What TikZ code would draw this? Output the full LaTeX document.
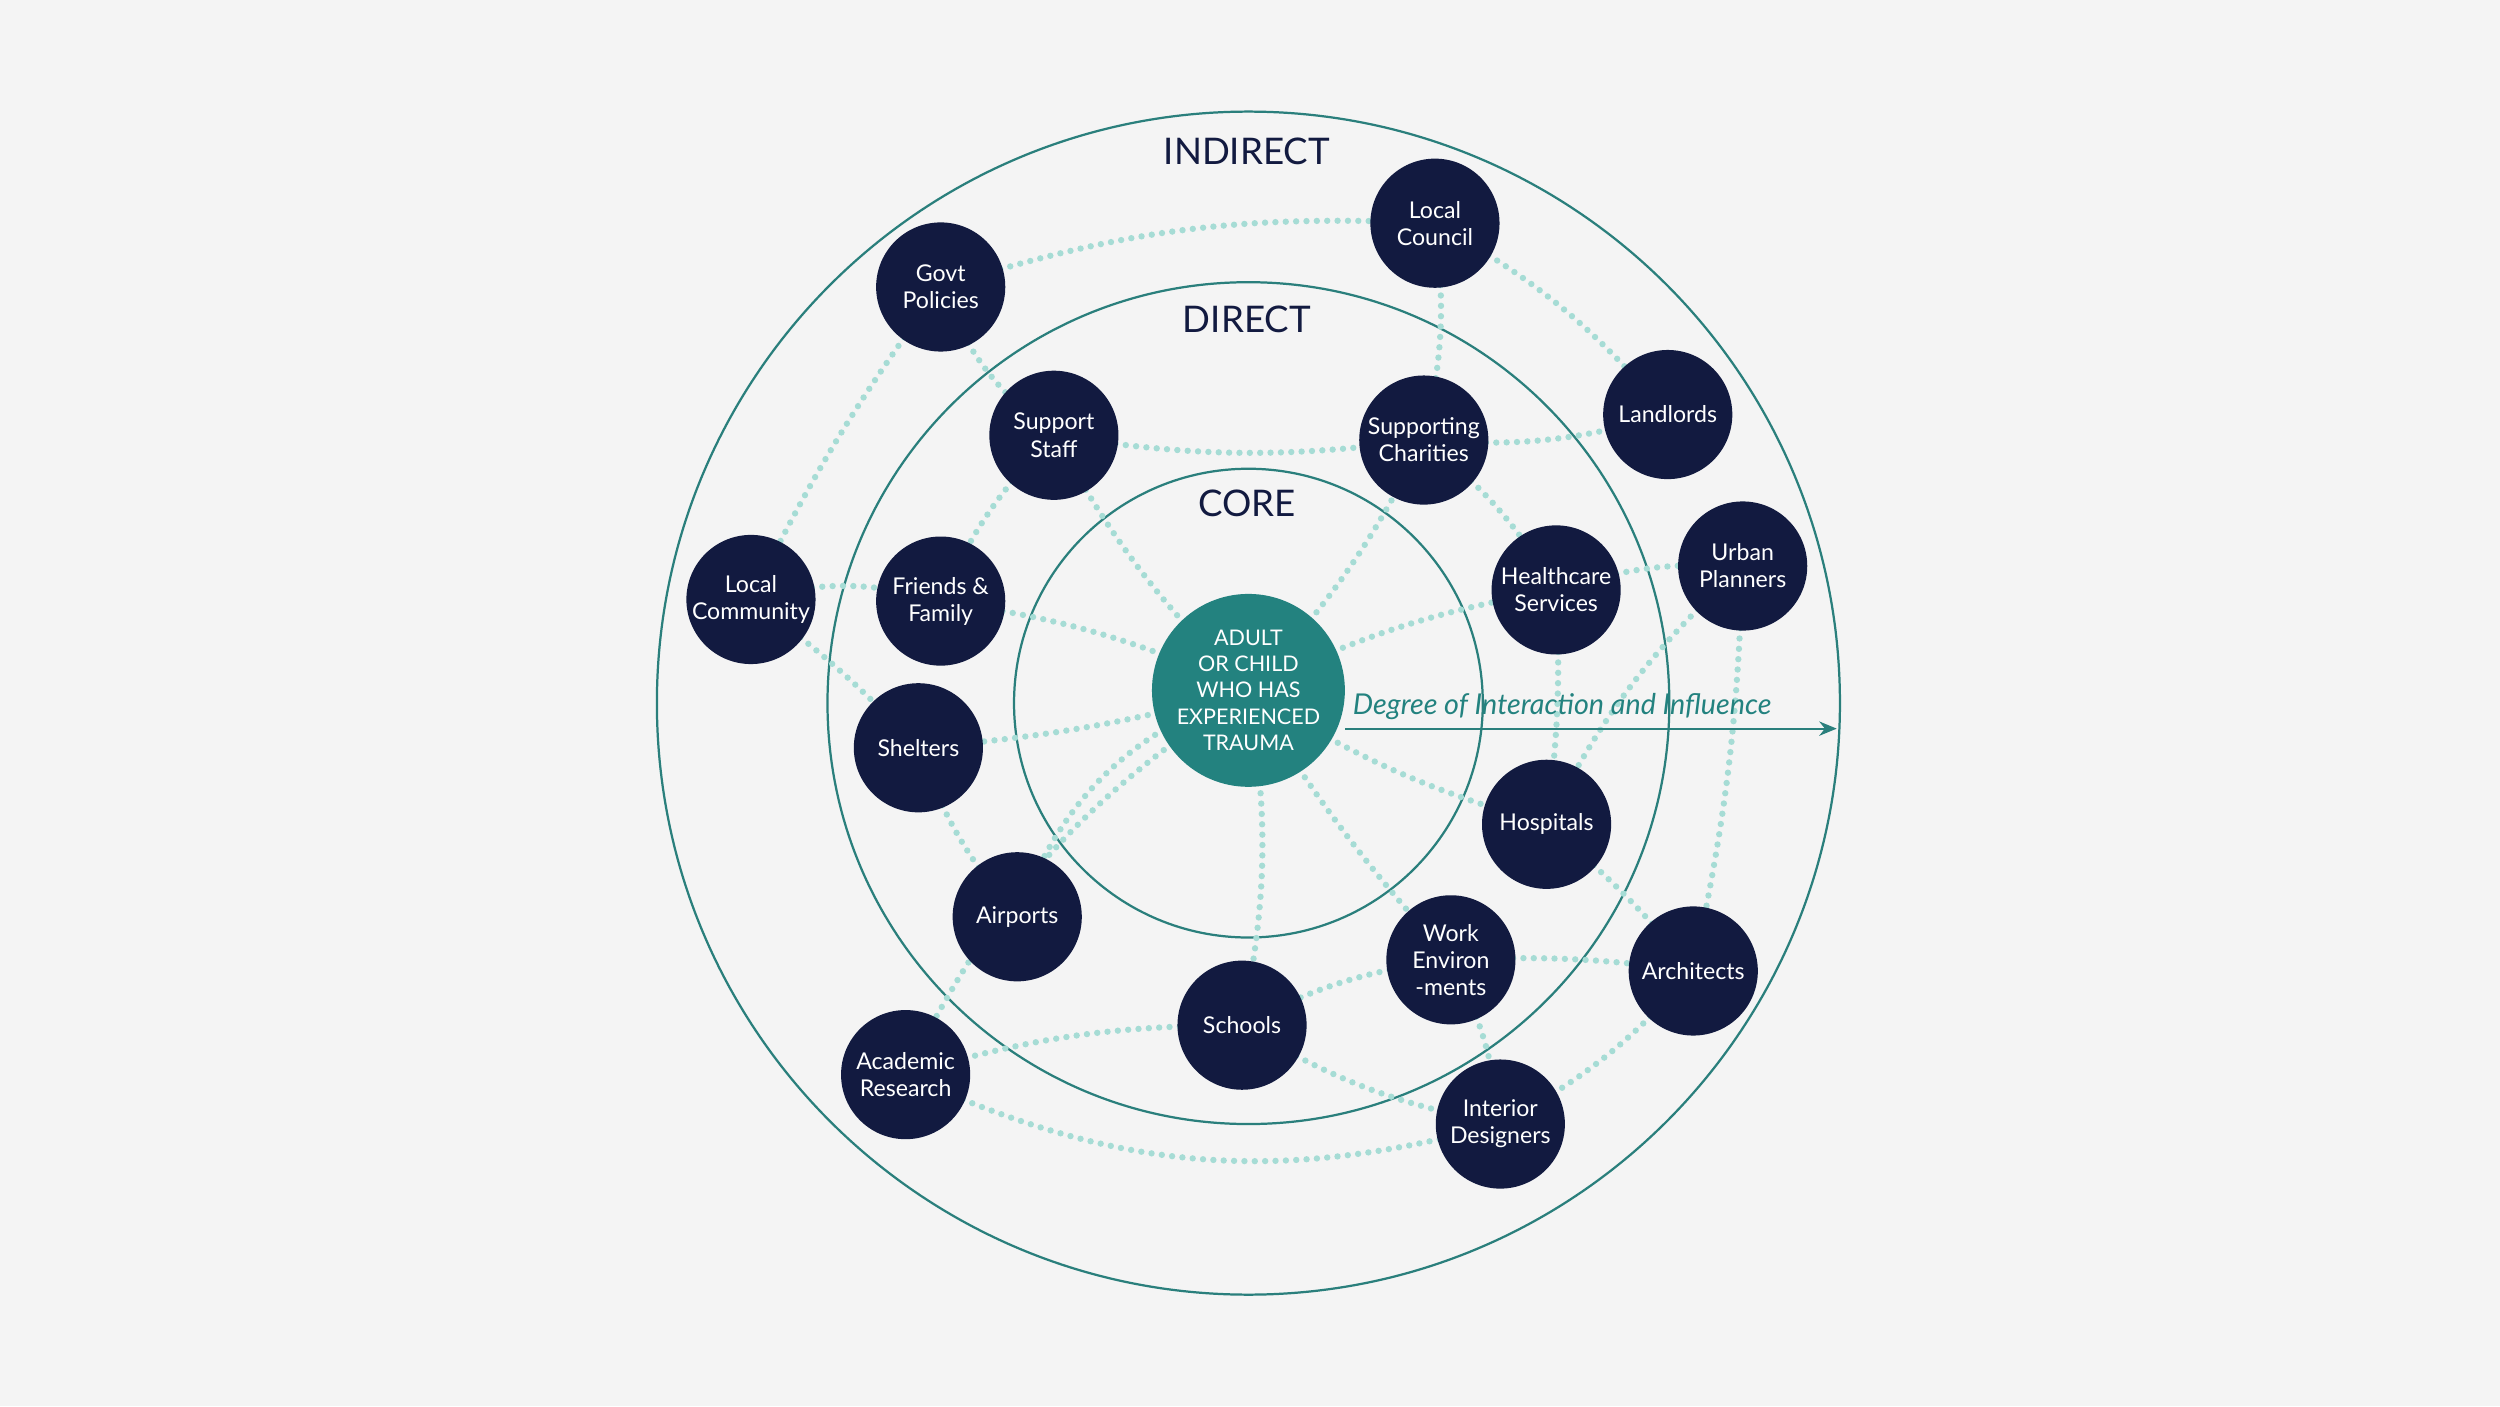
\documentclass[tikz,border=0pt]{standalone}
\usepackage{fontspec}
\setmainfont{Lato}
\usetikzlibrary{arrows.meta}
\definecolor{bg}{HTML}{F4F4F4}
\definecolor{navy}{HTML}{121A40}
\definecolor{teal}{HTML}{23827F}
\definecolor{ring}{HTML}{2A7F7C}
\definecolor{dots}{HTML}{A6DCD5}
\begin{document}
\begin{tikzpicture}[x=1pt,y=-1pt,
  actor/.style={circle,fill=navy,minimum size=81pt,inner sep=0pt,text=white,font=\fontsize{14.5}{17}\selectfont,align=center},
  hub/.style={circle,fill=teal,minimum size=121pt,inner sep=0pt,text=white,font=\fontsize{13.5}{16.5}\selectfont,align=center},
  link/.style={draw=dots,line width=4pt,dash pattern=on 0pt off 6.5pt,line cap=round},
  ringline/.style={draw=ring,line width=1.4pt},
  ringlabel/.style={text=navy,font=\fontsize{23}{26}\selectfont}]
\fill[bg] (0,0) rectangle (1568,882);
\useasboundingbox (0,0) rectangle (1568,882);
\coordinate (c) at (783,441);
\draw[ringline] (c) circle (371);
\draw[ringline] (c) circle (264);
\draw[ringline] (c) circle (147);
\node[ringlabel] (lind) at (782,95) {INDIRECT};
\node[ringlabel] (ldir) at (782,200) {DIRECT};
\node[ringlabel] (lcore) at (782,316) {CORE};
\begin{scope}[on background layer/.style={}]
\coordinate (C) at (783,433);
\coordinate (GP) at (590,180);
\coordinate (LC) at (900,140);
\coordinate (LL) at (1046,260);
\coordinate (UP) at (1093,355);
\coordinate (LCo) at (471,376);
\coordinate (SS) at (661,273);
\coordinate (SC) at (893,276);
\coordinate (HS) at (976,370);
\coordinate (FF) at (590,377);
\coordinate (SH) at (576,469);
\coordinate (HO) at (970,517);
\coordinate (AP) at (638,575);
\coordinate (WE) at (910,602);
\coordinate (AR) at (1062,609);
\coordinate (SCH) at (779,643);
\coordinate (AC) at (568,674);
\coordinate (ID) at (941,705);
\draw[link] (C) to[bend left=8] (SS);
\draw[link] (C) to[bend right=8] (SC);
\draw[link] (C) to[bend left=8] (HS);
\draw[link] (C) to[bend right=8] (FF);
\draw[link] (C) to[bend left=5] (SH);
\draw[link] (C) to[bend right=25] (AP);
\draw[link] (C) to[bend left=10] (SCH);
\draw[link] (C) to[bend right=5] (WE);
\draw[link] (C) to[bend right=8] (HO);
\draw[link] (C) to[bend right=15] (AC);
\draw[link] (GP) to[bend left=10] (LC);
\draw[link] (GP) to[bend right=15] (SS);
\draw[link] (GP) to[bend right=5] (LCo);
\draw[link] (LC) to[bend left=10] (SC);
\draw[link] (LC) to[bend left=10] (LL);
\draw[link] (SS) to[bend right=8] (SC);
\draw[link] (SS) to[bend right=10] (FF);
\draw[link] (SC) to[bend right=10] (LL);
\draw[link] (SC) to[bend left=10] (HS);
\draw[link] (LCo) to[bend left=15] (FF);
\draw[link] (LCo) to[bend left=5] (SH);
\draw[link] (HS) to[bend left=10] (UP);
\draw[link] (HS) to[bend left=5] (HO);
\draw[link] (SH) to[bend right=10] (AP);
\draw[link] (UP) to[bend right=10] (HO);
\draw[link] (UP) to[bend left=5] (AR);
\draw[link] (HO) to[bend left=5] (AR);
\draw[link] (WE) to[bend left=5] (AR);
\draw[link] (WE) to[bend right=10] (SCH);
\draw[link] (WE) to[bend left=10] (ID);
\draw[link] (AR) to[bend left=10] (ID);
\draw[link] (SCH) to[bend right=8] (AC);
\draw[link] (SCH) to[bend right=10] (ID);
\draw[link] (AC) to[bend right=20] (ID);
\end{scope}
\node[hub] (n0) at (C) {ADULT\\OR CHILD\\WHO HAS\\EXPERIENCED\\TRAUMA};
\node[actor] (n1) at (GP) {Govt\\Policies};
\node[actor] (n2) at (LC) {Local\\Council};
\node[actor] (n3) at (LL) {Landlords};
\node[actor] (n4) at (UP) {Urban\\Planners};
\node[actor] (n5) at (LCo) {Local\\Community};
\node[actor] (n6) at (SS) {Support\\Staff};
\node[actor] (n7) at (SC) {Supporting\\Charities};
\node[actor] (n8) at (HS) {Healthcare\\Services};
\node[actor] (n9) at (FF) {Friends \&\\Family};
\node[actor] (n10) at (SH) {Shelters};
\node[actor] (n11) at (HO) {Hospitals};
\node[actor] (n12) at (AP) {Airports};
\node[actor] (n13) at (WE) {Work\\Environ\\-ments};
\node[actor] (n14) at (AR) {Architects};
\node[actor] (n15) at (SCH) {Schools};
\node[actor] (n16) at (AC) {Academic\\Research};
\node[actor] (n17) at (ID) {Interior\\Designers};
\coordinate (aend) at (1152,457);
\draw[ring,line width=1.4pt,-{Stealth[length=11pt,width=9pt]}] (n0.east |- aend) -- (aend);
\node[text=teal,font=\itshape\fontsize{18}{20}\selectfont,anchor=south west] (albl) at (845,455) {Degree of Interaction and Influence};
\end{tikzpicture}
\end{document}
